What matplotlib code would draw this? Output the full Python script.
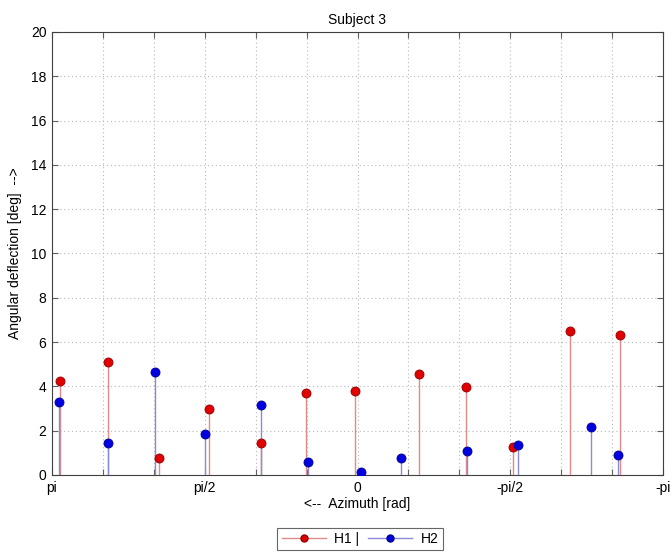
import numpy as np
import matplotlib
matplotlib.use("Agg")
import matplotlib.pyplot as plt
from matplotlib.lines import Line2D

plt.rcParams['font.family'] = ['Liberation Sans', 'DejaVu Sans']

# Azimuth in degrees (converted to radians below), deflection in degrees
h1_az_deg = [175.3, 147.0, 117.0, 87.5, 56.9, 30.3, 1.5, -36.2, -63.9, -91.6, -125.2, -154.6]
h1_val = [4.24, 5.1, 0.77, 2.98, 1.44, 3.7, 3.79, 4.56, 3.97, 1.26, 6.5, 6.32]
h2_az_deg = [175.9, 147.0, 119.3, 89.9, 56.9, 29.2, -2.1, -25.7, -64.5, -94.6, -137.6, -153.5]
h2_val = [3.3, 1.45, 4.65, 1.85, 3.16, 0.59, 0.14, 0.77, 1.08, 1.35, 2.17, 0.9]

xtick_labels = ['pi', '', '', 'pi/2', '', '', '0', '', '', '-pi/2', '', '', '-pi']

h1_az = np.deg2rad(h1_az_deg)
h2_az = np.deg2rad(h2_az_deg)

fig = plt.figure(figsize=(6.72, 5.54), dpi=100)
ax = fig.add_axes([52/672, 1-475/554, (663-52)/672, (475-32)/554])

red_line = '#e08a8a'
blue_line = '#8a8ad8'
red_face = '#e00000'
red_edge = '#900000'
blue_face = '#0000e0'
blue_edge = '#000090'

ax.vlines(h1_az, 0, h1_val, color=red_line, lw=1.0, zorder=3)
ax.vlines(h2_az, 0, h2_val, color=blue_line, lw=1.0, zorder=3)
ax.plot(h1_az, h1_val, 'o', ms=6.5, mfc=red_face, mec=red_edge, mew=0.6, zorder=4)
ax.plot(h2_az, h2_val, 'o', ms=6.5, mfc=blue_face, mec=blue_edge, mew=0.6, zorder=4)

ax.set_xlim(np.pi, -np.pi)
ax.set_ylim(0, 20)
ax.set_xticks(np.linspace(np.pi, -np.pi, 13))
ax.set_xticklabels(xtick_labels)
ax.set_yticks(np.arange(0, 21, 2))
ax.tick_params(direction='in', top=True, right=True, length=4, color='#606060', labelsize=10, pad=4)
ax.grid(True, linestyle=(0, (1, 2.5)), color='#b8b8b8', lw=0.8)
for s in ax.spines.values():
    s.set_color('#404040')
    s.set_linewidth(0.8)

ax.set_title('Subject 3', fontsize=10, pad=6)
ax.set_xlabel('<--  Azimuth [rad]', fontsize=10, labelpad=2)
ax.set_ylabel('Angular deflection [deg]  -->', fontsize=10, labelpad=6)

handles = [
    Line2D([0], [0], color=red_line, lw=1, marker='o', ms=5, mfc=red_face, mec=red_edge, markevery=[1]),
    Line2D([0], [0], color=blue_line, lw=1, marker='o', ms=5, mfc=blue_face, mec=blue_edge, markevery=[1]),
]
leg = fig.legend(handles, ['H1 |', 'H2'], loc='center', bbox_to_anchor=(360/672, 1-539/554),
                 ncol=2, fontsize=10, frameon=True, fancybox=False, handlelength=3.2,
                 columnspacing=0.6, handletextpad=0.6, borderpad=0.3)
leg.get_frame().set_edgecolor('#404040')
leg.get_frame().set_linewidth(0.8)

fig.savefig('out.png', dpi=100)
